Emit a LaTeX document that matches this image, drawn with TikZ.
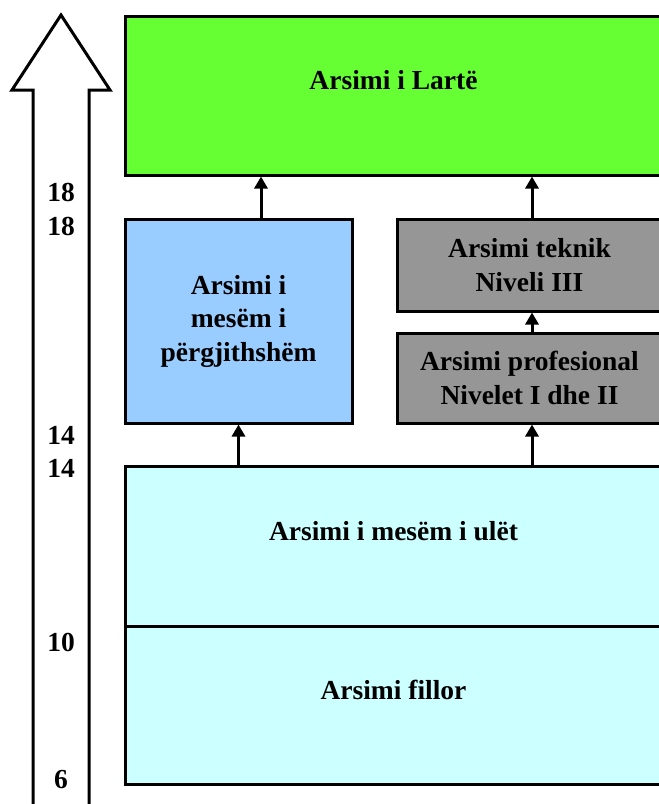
\documentclass[tikz,border=0pt]{standalone}
\usepackage{fontspec}
\setmainfont{Liberation Serif}
\usetikzlibrary{arrows.meta}

\begin{document}
\begin{tikzpicture}[x=1pt, y=-1pt,
    box/.style={draw, line width=3pt, inner sep=0pt, align=center,
        font=\bfseries\fontsize{27.5}{33.5}\selectfont},
    lift/.style={text depth=31pt},
    num/.style={font=\bfseries\fontsize{27.5}{33}\selectfont},
    up/.style={line width=3pt, -{Triangle[width=13pt, length=12pt]}}]
    \useasboundingbox (0,0) rectangle (659,804);
    \clip (0,0) rectangle (659,804);

    % 左侧年龄大箭头
    \draw[line width=3pt, miter limit=20] (33,810) -- (33,90) -- (12,90) -- (61,15)
        -- (110,90) -- (89,90) -- (89,810);

    % 年龄数字
    \node[num] (age18a) at (61,192) {18};
    \node[num] (age18b) at (61,226) {18};
    \node[num] (age14a) at (61,435) {14};
    \node[num] (age14b) at (61,468) {14};
    \node[num] (age10) at (61,642) {10};
    \node[num] (age6) at (61,780) {6};

    % 高等教育
    \node[box, lift, fill={rgb,255:red,102;green,255;blue,51}, minimum width=537pt, minimum height=159pt]
        (larte) at (393.5,95.5) {Arsimi i Lartë};

    % 普通高中
    \node[box, fill={rgb,255:red,153;green,204;blue,255}, minimum width=227pt, minimum height=204pt]
        (pergj) at (238.5,321) {Arsimi i\\mesëm i\\përgjithshëm};

    % 职业教育两层
    \node[box, fill={rgb,255:red,150;green,150;blue,150}, minimum width=265pt, minimum height=92pt]
        (teknik) at (529.5,265) {Arsimi teknik\\Niveli III};
    \node[box, fill={rgb,255:red,150;green,150;blue,150}, minimum width=265pt, minimum height=90pt]
        (prof) at (529.5,378) {Arsimi profesional\\Nivelet I dhe II};

    % 初中和小学
    \node[box, lift, fill={rgb,255:red,204;green,255;blue,255}, minimum width=537pt, minimum height=160pt]
        (ulet) at (393.5,546) {Arsimi i mesëm i ulët};
    \node[box, lift, fill={rgb,255:red,204;green,255;blue,255}, minimum width=537pt, minimum height=158pt]
        (fillor) at (393.5,705) {Arsimi fillor};

    % 向上的连接箭头
    \draw[up] ([xshift=22.5pt]pergj.north) -- ([xshift=22.5pt]pergj.north |- larte.south);
    \draw[up] ([xshift=2.5pt]teknik.north) -- ([xshift=2.5pt]teknik.north |- larte.south);
    \draw[up] ([xshift=2.5pt]prof.north) -- ([xshift=2.5pt]prof.north |- teknik.south);
    \draw[up] (ulet.north -| pergj.south) -- (pergj.south);
    \draw[up] (ulet.north -| prof.south) ++(2.5,0) coordinate (ulet_prof)
        (ulet_prof) -- (ulet_prof |- prof.south);
\end{tikzpicture}
\end{document}
